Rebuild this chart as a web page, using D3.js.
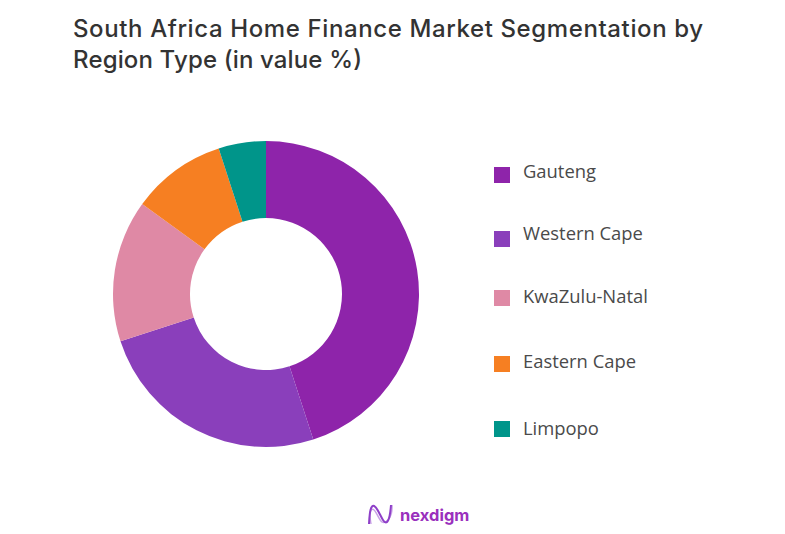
<!DOCTYPE html>
<html>
<head>
<meta charset="utf-8">
<script src="https://cdn.jsdelivr.net/npm/d3@7/dist/d3.min.js"></script>
<style>
html, body { margin: 0; padding: 0; background: #fff; }
text { font-family: "Open Sans", sans-serif; }
</style>
</head>
<body>
<div id="wrapper"></div>
<script>
var regions = ["Gauteng", "Western Cape", "KwaZulu-Natal", "Eastern Cape", "Limpopo"];
var shares = [45, 25, 15, 10, 5];
var colours = ["#8e24aa", "#8a3fbb", "#df89a5", "#f67f22", "#00958a"];
var titleLines = ["South Africa Home Finance Market Segmentation by", "Region Type (in value %)"];
var titleWidths = [630, 289];
var swatchRows = [175, 239, 298, 364, 429];
var labelRows = [178, 240, 303, 368, 435];

var svg = d3.select("#wrapper")
            .append("svg")
            .attr("width", 785)
            .attr("height", 534)
            .style("display", "block");

// title
svg.selectAll("text.title")
   .data(titleLines)
   .enter()
   .append("text")
   .attr("class", "title")
   .attr("x", 73)
   .attr("y", function(d, i) { return 37 + i * 31; })
   .attr("textLength", function(d, i) { return titleWidths[i]; })
   .attr("fill", "#333333")
   .style("font-family", "Inter, sans-serif")
   .style("font-size", "24px")
   .style("font-weight", 500)
   .text(function(d) { return d; });

// donut
var colour = d3.scaleOrdinal().domain(regions).range(colours);

var pie = d3.pie().sort(null);
var arc = d3.arc().innerRadius(76).outerRadius(153);

svg.append("g")
   .attr("transform", "translate(266,294)")
   .selectAll("path")
   .data(pie(shares))
   .enter()
   .append("path")
   .attr("d", arc)
   .attr("fill", function(d, i) { return colour(regions[i]); });

// legend
var legend = svg.selectAll("g.legend")
                .data(regions)
                .enter()
                .append("g")
                .attr("class", "legend");

legend.append("rect")
      .attr("x", 494)
      .attr("y", function(d, i) { return swatchRows[i] - 8; })
      .attr("width", 16)
      .attr("height", 16)
      .attr("fill", function(d) { return colour(d); });

legend.append("text")
      .attr("x", 523)
      .attr("y", function(d, i) { return labelRows[i]; })
      .attr("fill", "#4a4a4a")
      .style("font-size", "18.4px")
      .text(function(d) { return d; });

// logo
var logo = svg.append("g").attr("transform", "translate(368,504)");
var wave = d3.line().curve(d3.curveBasis);
var wavePoints = [[1, 20], [2, 4], [6, 0], [11, 8], [15, 17], [19, 20], [22, 12], [23, 1]];
var wavePointsBack = [[3, 20], [1, 8], [5, 3], [10, 12], [14, 20], [20, 17], [24, 10], [24, 1]];

logo.append("path")
    .attr("d", wave(wavePointsBack))
    .attr("fill", "none")
    .attr("stroke", "#c9a2e6")
    .attr("stroke-width", 1.5);

logo.append("path")
    .attr("d", wave(wavePoints))
    .attr("fill", "none")
    .attr("stroke", "#8e3fc8")
    .attr("stroke-width", 2);

svg.append("text")
   .attr("x", 400)
   .attr("y", 521)
   .attr("fill", "#9a30bd")
   .style("font-family", "Inter, sans-serif")
   .style("font-size", "16.5px")
   .style("font-weight", 700)
   .text("nexdigm");
</script>
</body>
</html>
